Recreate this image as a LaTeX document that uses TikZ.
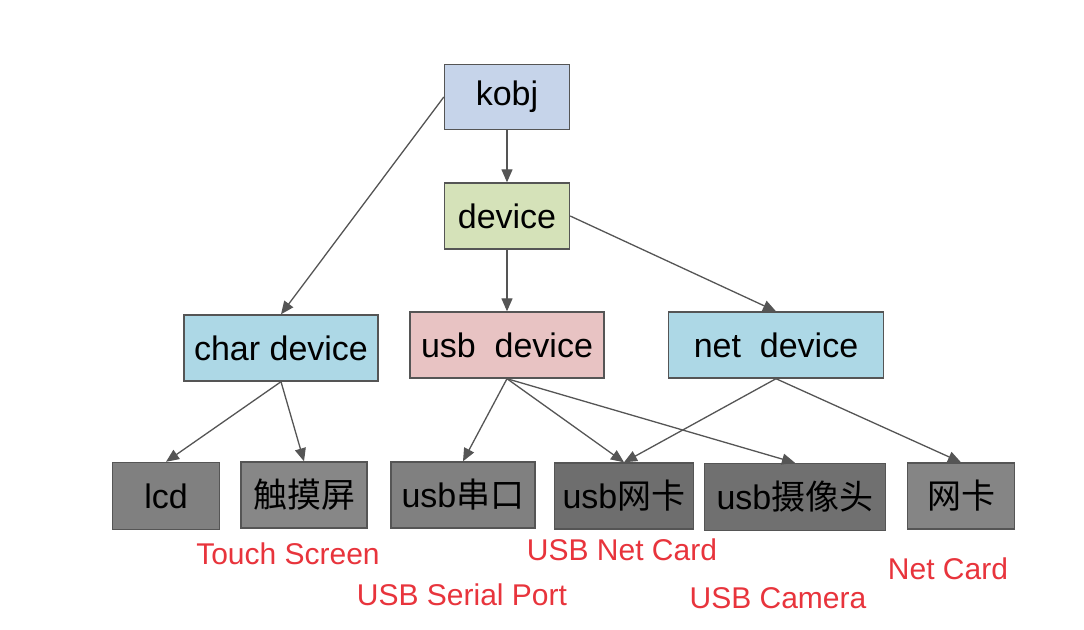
\documentclass[tikz,border=0pt]{standalone}
\usepackage{fontspec}
\setmainfont{Liberation Sans}
\newfontfamily\cjk{Noto Sans CJK SC}
\usetikzlibrary{arrows.meta}
\definecolor{kobjc}{HTML}{C6D4EA}
\definecolor{devc}{HTML}{D5E2B9}
\definecolor{bluec}{HTML}{ADD8E6}
\definecolor{usbc}{HTML}{E8C3C3}
\definecolor{edgec}{HTML}{555555}
\definecolor{redc}{HTML}{E8343C}
\tikzset{
  box/.style={draw=edgec, line width=0.7pt, inner sep=0pt, font=\fontsize{17}{20}\selectfont, text=black},
  conn/.style={draw=edgec, line width=0.65pt, -{Triangle[length=6.5pt,width=5.5pt]}},
  lbl/.style={text=redc, font=\fontsize{15}{18}\selectfont, inner sep=0pt}
}
\begin{document}
\begin{tikzpicture}[x=0.5pt,y=-0.5pt]
\path[use as bounding box, fill=white] (0,0) rectangle (1084,629);
\node[box, fill=kobjc, minimum width=62.5pt, minimum height=32.5pt] (kobj) at (507,97) {kobj};
\node[box, fill=devc, minimum width=62.5pt, minimum height=33pt] (dev) at (507,216) {device};
\node[box, fill=bluec, minimum width=97pt, minimum height=33pt] (char) at (281,348) {char device};
\node[box, fill=usbc, minimum width=97pt, minimum height=33pt] (usb) at (507,345) {usb\ \ device};
\node[box, fill=bluec, minimum width=107.5pt, minimum height=33pt] (net) at (776,345) {net\ \ device};
\node[box, fill=black!50, minimum width=53.5pt, minimum height=33.5pt] (lcd) at (166,496) {lcd};
\node[box, fill=black!47, minimum width=63pt, minimum height=33pt] (touch) at (304,495) {\cjk 触摸屏};
\node[box, fill=black!50, minimum width=72pt, minimum height=33pt] (serial) at (463,495) {usb{\cjk 串口}};
\node[box, fill=black!57, minimum width=69.5pt, minimum height=33pt] (usbnet) at (624,496) {usb{\cjk 网卡}};
\node[box, fill=black!56, minimum width=90.5pt, minimum height=33.5pt] (cam) at (795,497) {usb{\cjk 摄像头}};
\node[box, fill=black!48, minimum width=53.5pt, minimum height=33pt] (nic) at (961,496) {\cjk 网卡};
\draw[conn] (kobj.west) -- (char.north);
\draw[conn] (kobj.south) -- (dev.north);
\draw[conn] (dev.south) -- (usb.north);
\draw[conn] (dev.east) -- (net.north);
\draw[conn] (char.south) -- (lcd.north);
\draw[conn] (char.south) -- (touch.north);
\draw[conn] (usb.south) -- (serial.north);
\draw[conn] (usb.south) -- (usbnet.north);
\draw[conn] (usb.south) -- (cam.north);
\draw[conn] (net.south) -- (usbnet.north);
\draw[conn] (net.south) -- (nic.north);
\node[lbl] (l1) at (288,554) {Touch Screen};
\node[lbl] (l2) at (462,595) {USB Serial Port};
\node[lbl] (l3) at (622,550) {USB Net Card};
\node[lbl] (l4) at (778,598) {USB Camera};
\node[lbl] (l5) at (948,569) {Net Card};
\end{tikzpicture}
\end{document}
